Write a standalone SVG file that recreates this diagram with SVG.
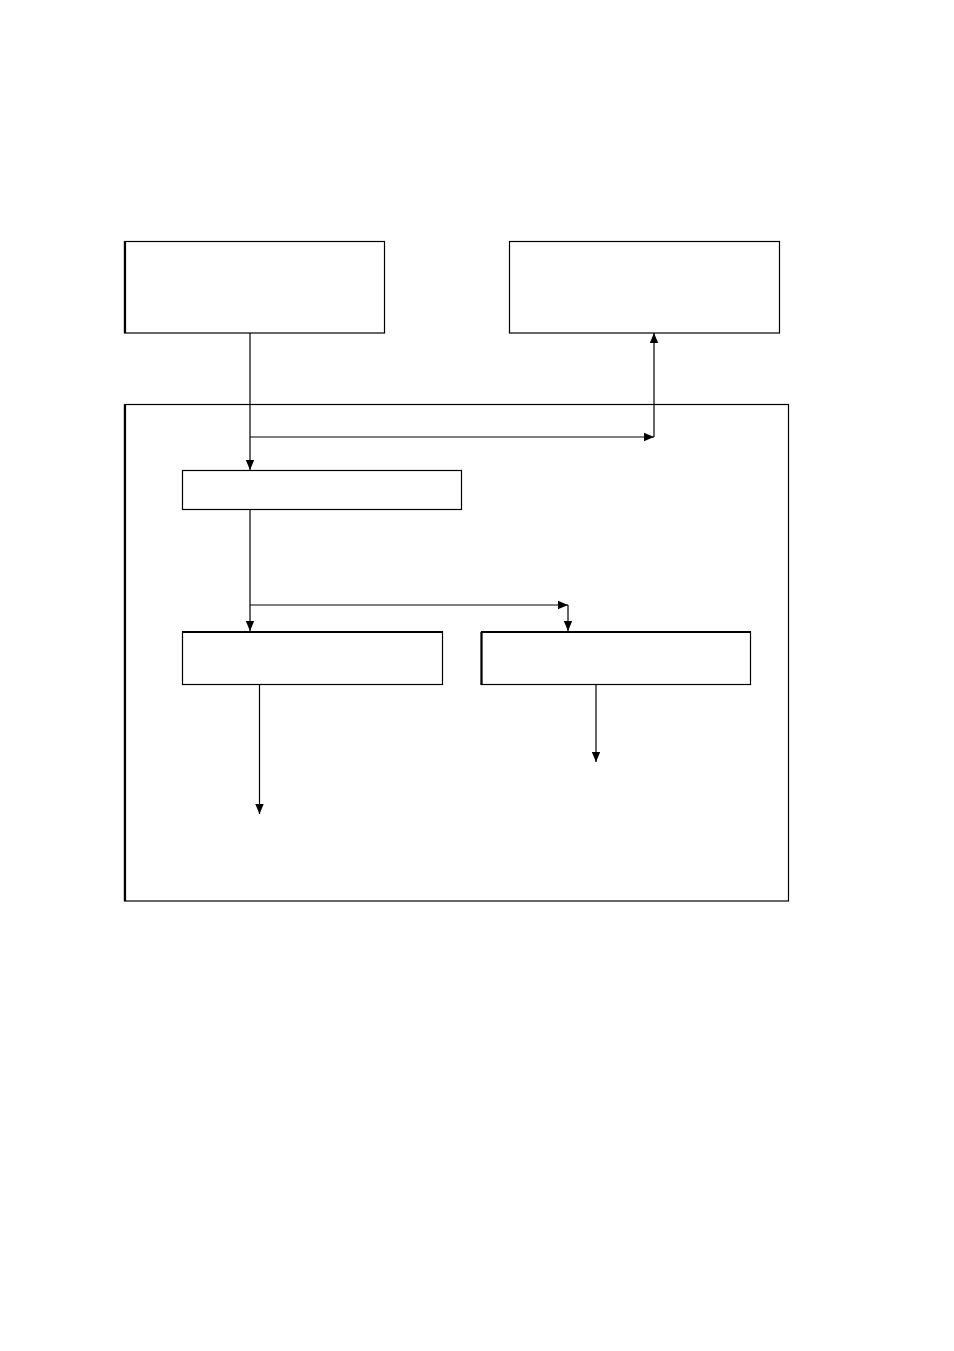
<svg xmlns="http://www.w3.org/2000/svg" width="954" height="1351" viewBox="0 0 954 1351">
<style>
.box{fill:#fff;stroke:#000;stroke-width:1.2}
.thick{stroke:#000;stroke-width:2.2}
.ln{fill:none;stroke:#000;stroke-width:1.2}
</style>
<defs>
<marker id="ah" markerUnits="userSpaceOnUse" markerWidth="10" markerHeight="10" viewBox="0 0 10 10" refX="10" refY="5" orient="auto">
<path d="M0,0.8 L10,5 L0,9.2 Z" fill="#000"/>
</marker>
</defs>
<rect width="954" height="1351" fill="#fff"/>
<g id="container">
<rect class="box" x="124.5" y="404.5" width="664" height="496.5"/>
<line class="thick" x1="125" y1="404" x2="125" y2="901"/>
</g>
<g id="box1">
<rect class="box" x="124.5" y="241.5" width="260" height="91.5"/>
<line class="thick" x1="125" y1="241" x2="125" y2="333"/>
</g>
<g id="box2">
<rect class="box" x="509.5" y="241.5" width="270" height="91.5"/>
</g>
<g id="box3">
<rect class="box" x="182.5" y="470.5" width="279" height="39"/>
</g>
<g id="box4">
<rect class="box" x="182.5" y="632" width="260" height="52.5"/>
<line class="thick" x1="182" y1="632" x2="443" y2="632"/>
</g>
<g id="box5">
<rect class="box" x="481.5" y="632" width="269" height="52.5"/>
<line class="thick" x1="481" y1="632" x2="751" y2="632"/>
<line class="thick" x1="481.5" y1="632" x2="481.5" y2="685"/>
</g>
<g id="connectors">
<line class="ln" x1="250" y1="333" x2="250" y2="470" marker-end="url(#ah)"/>
<line class="ln" x1="250" y1="437" x2="654" y2="437" marker-end="url(#ah)"/>
<line class="ln" x1="654" y1="437" x2="654" y2="333" marker-end="url(#ah)"/>
<line class="ln" x1="250" y1="510" x2="250" y2="631" marker-end="url(#ah)"/>
<line class="ln" x1="250" y1="605" x2="568" y2="605" marker-end="url(#ah)"/>
<line class="ln" x1="568" y1="605" x2="568" y2="631" marker-end="url(#ah)"/>
<line class="ln" x1="259.5" y1="685" x2="259.5" y2="814" marker-end="url(#ah)"/>
<line class="ln" x1="596" y1="685" x2="596" y2="762" marker-end="url(#ah)"/>
</g>
</svg>
